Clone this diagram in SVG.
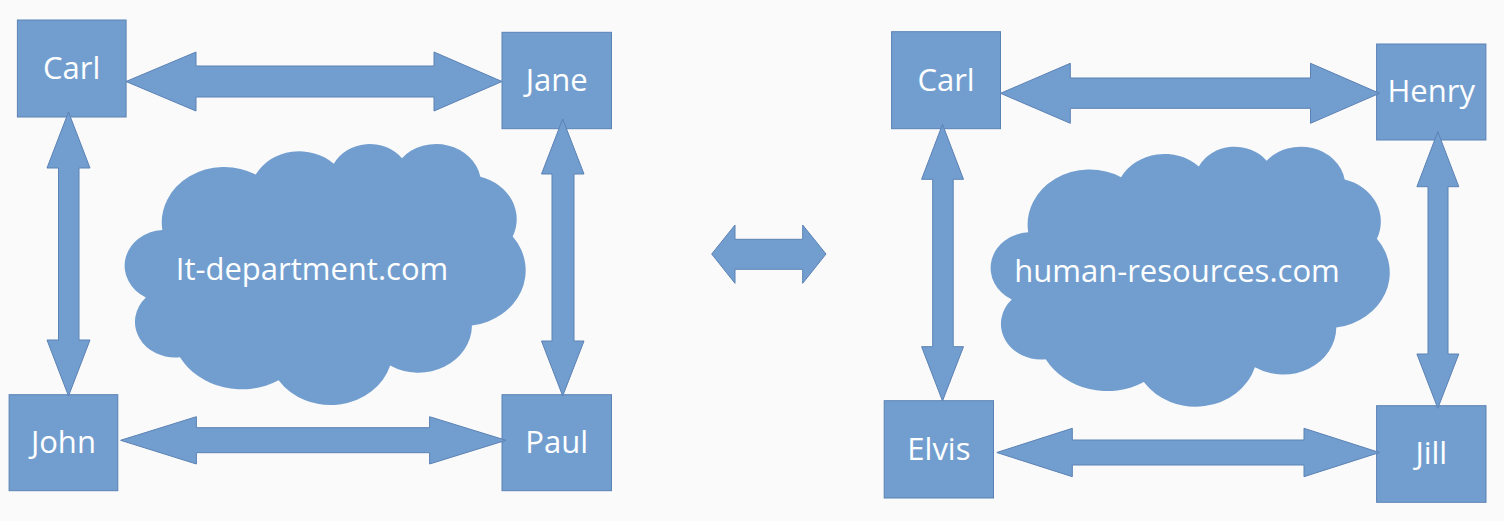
<svg xmlns="http://www.w3.org/2000/svg" width="1504" height="521" viewBox="0 0 1504 521">
<style>
.bg{fill:#fafafa}
.node{fill:#729ecf;stroke:#5b82b5;stroke-width:1}
.cloud{fill:#729ecf;stroke:#5b82b5;stroke-width:1}
.inner{fill:none;stroke:#5b82b5;stroke-width:1}
.lbl{font-family:"Open Sans","Noto Sans","DejaVu Sans",sans-serif;font-size:31px;fill:#ffffff;text-anchor:middle}
.arrow{fill:#729ecf;stroke:#5b82b5;stroke-width:1;stroke-linejoin:miter}
</style>
<defs>
<path id="cloudShape" d="M 3900 14370 A 6753 9190 0 0 1 14005 5202 A 5333 7267 0 0 1 22458 3430 A 4365 5945 0 0 1 29835 2479 A 4857 6595 0 0 1 38320 5574 A 5333 7273 0 0 1 41820 15458 A 6775 9220 0 0 1 37406 30201 A 5785 7867 0 0 1 28558 36811 A 6752 9215 0 0 1 16482 39262 A 7720 10543 0 0 1 5807 35468 A 4360 5918 0 0 1 2115 25546 A 4345 5945 0 0 1 3900 14370 Z"/>
<path id="cloudInner" d="M 4693 26177 A 4345 5945 0 0 1 2160 25380 M 6928 34899 A 4360 5918 0 0 1 5820 35281 M 16478 39090 A 6752 9215 0 0 1 15810 37350 M 28827 34751 A 6752 9215 0 0 1 28560 36660 M 34129 22954 A 5785 7867 0 0 1 37381 30090 M 41798 15354 A 5333 7273 0 0 1 40350 18030 M 38324 5426 A 4857 6595 0 0 1 38401 6690 M 29078 3952 A 4857 6595 0 0 1 29820 2341 M 22141 4720 A 4365 5945 0 0 1 22500 3329 M 14000 5192 A 6753 9190 0 0 1 15300 6540 M 4127 15789 A 6753 9190 0 0 1 3900 14370"/>
</defs>
<rect class="bg" x="0" y="0" width="1504" height="521"/>

<g id="cloud-it">
<g transform="translate(126.3,143.16) scale(0.0092403,0.0060393)">
<use href="#cloudShape" class="cloud" vector-effect="non-scaling-stroke"/>
<use href="#cloudInner" class="inner" vector-effect="non-scaling-stroke"/>
</g>
<text class="lbl" x="312" y="280">It-department.com</text>
</g>

<g id="cloud-hr">
<g transform="translate(992.3,145.86) scale(0.009196,0.006016)">
<use href="#cloudShape" class="cloud" vector-effect="non-scaling-stroke"/>
<use href="#cloudInner" class="inner" vector-effect="non-scaling-stroke"/>
</g>
<text class="lbl" x="1177" y="281.7">human-resources.com</text>
</g>

<g id="carl-it"><rect class="node" x="17.4" y="20" width="108.7" height="97"/><text class="lbl" x="71.7" y="79">Carl</text></g>
<g id="jane"><rect class="node" x="502" y="32.3" width="109.5" height="96.4"/><text class="lbl" x="556.7" y="90.7">Jane</text></g>
<g id="john"><rect class="node" x="9.1" y="394.7" width="108.7" height="96"/><text class="lbl" x="63.4" y="452.7">John</text></g>
<g id="paul"><rect class="node" x="502" y="394.7" width="109.5" height="96"/><text class="lbl" x="556.7" y="452.7">Paul</text></g>

<g id="carl-hr"><rect class="node" x="891.6" y="31.7" width="108.9" height="97"/><text class="lbl" x="946" y="91">Carl</text></g>
<g id="henry"><rect class="node" x="1376.6" y="44" width="109.3" height="96"/><text class="lbl" x="1431.2" y="102.3">Henry</text></g>
<g id="elvis"><rect class="node" x="884.2" y="400.7" width="109.3" height="97.3"/><text class="lbl" x="938.9" y="460">Elvis</text></g>
<g id="jill"><rect class="node" x="1376.6" y="405.7" width="109.4" height="96.6"/><text class="lbl" x="1431.3" y="464">Jill</text></g>

<g id="connectors">
<polygon class="arrow" points="126,81.5 196,52 196,66 434,66 434,52 502,81.5 434,111 434,97 196,97 196,111"/>
<polygon class="arrow" points="120.6,440.3 196.4,416.7 196.4,427.7 429.6,427.7 429.6,416.7 506,440.3 429.6,464 429.6,452.7 196.4,452.7 196.4,464"/>
<polygon class="arrow" points="68.5,112 90,168 79,168 79,340 90,340 68.5,396 47,340 58.5,340 58.5,168 47,168"/>
<polygon class="arrow" points="562.7,119 584,174 574,174 574,341 584,341 562.7,396 541.5,341 552,341 552,174 541.5,174"/>

<polygon class="arrow" points="711.7,254 735,225 735,239.3 802.7,239.3 802.7,225 826,254 802.7,283.3 802.7,269.3 735,269.3 735,283.3"/>

<polygon class="arrow" points="1000.5,93.3 1070.3,63.3 1070.3,78 1310.5,78 1310.5,63.3 1379.5,93.3 1310.5,123.3 1310.5,108.3 1070.3,108.3 1070.3,123.3"/>
<polygon class="arrow" points="996.8,452.5 1072.3,428.3 1072.3,440 1304,440 1304,428.3 1379.5,452.5 1304,476.7 1304,465 1072.3,465 1072.3,476.7"/>
<polygon class="arrow" points="942.5,124.3 963.5,179.3 953.2,179.3 953.2,346.7 963.5,346.7 942.5,401 921.6,346.7 932.7,346.7 932.7,179.3 921.6,179.3"/>
<polygon class="arrow" points="1437.8,131.7 1458.8,186.7 1448,186.7 1448,354 1458.8,354 1437.8,408.3 1416.9,354 1428,354 1428,186.7 1416.9,186.7"/>
</g>
</svg>
